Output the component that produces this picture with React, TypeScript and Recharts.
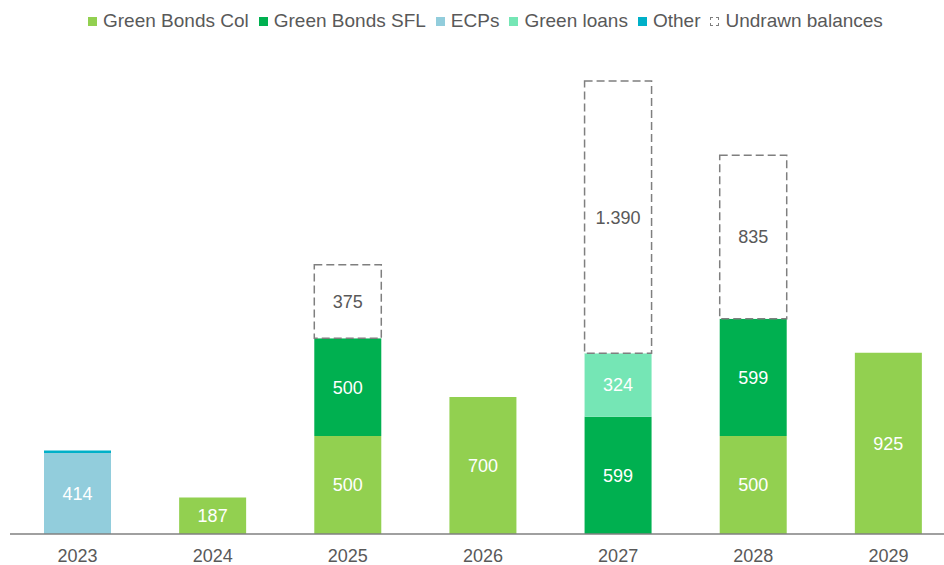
import { BarChart, Bar, XAxis, YAxis, LabelList } from "recharts";

const years = ["2023", "2024", "2025", "2026", "2027", "2028", "2029"];
const greenBondsCol = [0, 187, 500, 700, 0, 500, 925];
const greenBondsSFL = [0, 0, 500, 0, 599, 599, 0];
const ecps = [414, 0, 0, 0, 0, 0, 0];
const greenLoans = [0, 0, 0, 0, 324, 0, 0];
const other = [12, 0, 0, 0, 0, 0, 0];
const undrawn = [0, 0, 375, 0, 1390, 835, 0];

const data = years.map((year, i) => ({
  year,
  col: greenBondsCol[i],
  sfl: greenBondsSFL[i],
  ecps: ecps[i],
  loans: greenLoans[i],
  other: other[i],
  undrawn: undrawn[i],
}));

const legendItems = [
  { name: "Green Bonds Col", color: "#92D050" },
  { name: "Green Bonds SFL", color: "#00B050" },
  { name: "ECPs", color: "#92CDDC" },
  { name: "Green loans", color: "#75E6B5" },
  { name: "Other", color: "#00B0C8" },
  { name: "Undrawn balances", color: "none" },
];

const fmt = (v: any) => {
  const n = Number(v);
  if (!n) return "";
  return n >= 1000 ? n.toLocaleString("de-DE") : String(n);
};

const font = "'Liberation Sans', Arial, sans-serif";

function Legend() {
  return (
    <div
      style={{
        position: "absolute",
        top: 10,
        left: 88,
        display: "flex",
        alignItems: "center",
        fontFamily: font,
        fontSize: 19,
        color: "#595959",
        whiteSpace: "nowrap",
      }}
    >
      {legendItems.map((item) => (
        <div key={item.name} style={{ display: "flex", alignItems: "center", marginRight: 10 }}>
          {item.color === "none" ? (
            <span
              style={{
                width: 7,
                height: 7,
                border: "1px dashed #7f7f7f",
                marginRight: 6,
                display: "inline-block",
              }}
            />
          ) : (
            <span
              style={{ width: 9, height: 9, background: item.color, marginRight: 6, display: "inline-block" }}
            />
          )}
          <span>{item.name}</span>
        </div>
      ))}
    </div>
  );
}

export default function App() {
  return (
    <div style={{ position: "absolute", left: 0, top: 0, width: 944, height: 565, overflow: "hidden", background: "#fff" }}>
      <Legend />
      <BarChart
        width={960}
        height={565}
        data={data}
        margin={{ top: 64, right: 4, left: 10, bottom: 0 }}
        barSize={67}
      >
        <XAxis
          dataKey="year"
          axisLine={{ stroke: "#808080", strokeWidth: 1.5 }}
          tickLine={false}
          height={31}
          tick={{ fill: "#595959", fontSize: 18, fontFamily: font }}
          tickMargin={9}
        />
        <YAxis hide domain={[0, 2400]} />
        <Bar dataKey="col" stackId="a" fill="#92D050" isAnimationActive={false}>
          <LabelList dataKey="col" position="center" fill="#fff" fontSize={18} fontFamily={font} formatter={fmt} />
        </Bar>
        <Bar dataKey="sfl" stackId="a" fill="#00B050" isAnimationActive={false}>
          <LabelList dataKey="sfl" position="center" fill="#fff" fontSize={18} fontFamily={font} formatter={fmt} />
        </Bar>
        <Bar dataKey="ecps" stackId="a" fill="#92CDDC" isAnimationActive={false}>
          <LabelList dataKey="ecps" position="center" fill="#fff" fontSize={18} fontFamily={font} formatter={fmt} />
        </Bar>
        <Bar dataKey="loans" stackId="a" fill="#75E6B5" isAnimationActive={false}>
          <LabelList dataKey="loans" position="center" fill="#fff" fontSize={18} fontFamily={font} formatter={fmt} />
        </Bar>
        <Bar dataKey="other" stackId="a" fill="#00B0C8" isAnimationActive={false} />
        <Bar
          dataKey="undrawn"
          stackId="a"
          fill="#fff"
          stroke="#7f7f7f"
          strokeWidth={1.5}
          strokeDasharray="8 4"
          isAnimationActive={false}
        >
          <LabelList dataKey="undrawn" position="center" fill="#595959" fontSize={18} fontFamily={font} formatter={fmt} />
        </Bar>
      </BarChart>
    </div>
  );
}
